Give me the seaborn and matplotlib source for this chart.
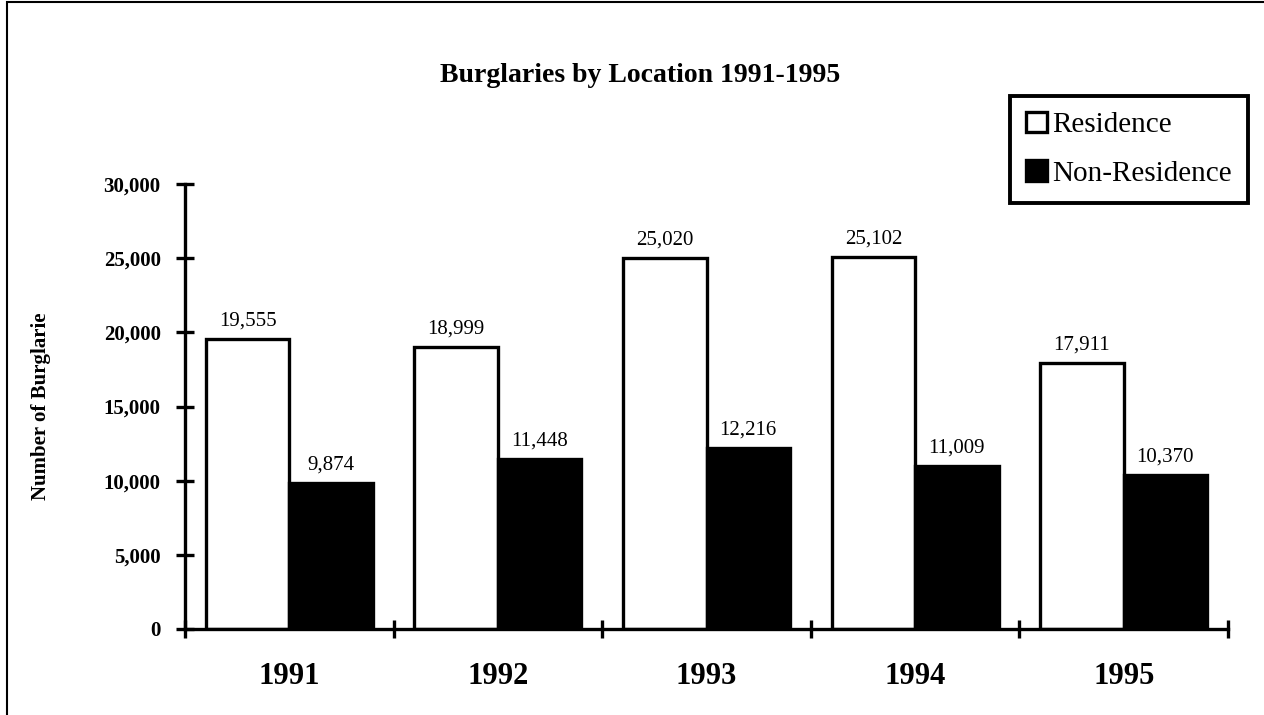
import numpy as np
import pandas as pd
import seaborn as sns
import matplotlib.pyplot as plt
from matplotlib.patches import Rectangle

years = ['1991', '1992', '1993', '1994', '1995']
residence = [19555, 18999, 25020, 25102, 17911]
non_residence = [9874, 11448, 12216, 11009, 10370]
locations = ['Residence', 'Non-Residence']

df = pd.DataFrame({
    'Year': years * 2,
    'Location': ['Residence'] * len(years) + ['Non-Residence'] * len(years),
    'Count': residence + non_residence,
})

sns.set_style('white')
plt.rcParams['font.family'] = ['Liberation Serif', 'DejaVu Serif']
plt.rcParams['text.color'] = 'black'
plt.rcParams['axes.labelcolor'] = 'black'
plt.rcParams['xtick.color'] = 'black'
plt.rcParams['ytick.color'] = 'black'

fig = plt.figure(figsize=(12.64, 7.15), dpi=100)
ax = fig.add_axes([185 / 1264, 1 - 629 / 715, (1228 - 185) / 1264, (629 - 184) / 715])

sns.barplot(data=df, x='Year', y='Count', hue='Location', hue_order=locations,
            palette={'Residence': 'white', 'Non-Residence': 'black'},
            edgecolor='black', linewidth=2.4, width=0.8, ax=ax)

# value labels on top of bars
for cont in ax.containers:
    ax.bar_label(cont, fmt='{:,.0f}', padding=6, fontsize=15, color='black')

ax.set_xlim(-0.5, 4.5)
ax.set_ylim(0, 30000)
ax.set_yticks(np.arange(0, 30001, 5000))
ax.set_yticklabels([f'{v:,}' for v in range(0, 30001, 5000)], fontsize=15, fontweight='bold')
ax.tick_params(axis='y', left=True, direction='inout', length=13, width=2.4, pad=11)

# category labels centred, ticks at the group boundaries
ax.set_xticks(range(len(years)))
ax.set_xticklabels(years, fontsize=22, fontweight='bold')
ax.tick_params(axis='x', which='major', bottom=False, length=0, pad=24)
ax.set_xticks(np.arange(-0.5, len(years), 1), minor=True)
ax.tick_params(axis='x', which='minor', bottom=True, direction='inout', length=13, width=2.4)

ax.set_xlabel('')
ax.set_ylabel('Number of Burglarie', fontsize=15, fontweight='bold')
ax.yaxis.set_label_coords(-0.128, 0.5)

for side in ['top', 'right']:
    ax.spines[side].set_visible(False)
for side in ['left', 'bottom']:
    ax.spines[side].set_linewidth(2.4)
    ax.spines[side].set_color('black')

ax.get_legend().remove()
handles, labels = ax.get_legend_handles_labels()
leg = fig.legend(handles, labels, loc='upper right',
                 bbox_to_anchor=(1248 / 1264, 1 - 96 / 715),
                 fontsize=21, handlelength=0.7, handleheight=0.7,
                 handletextpad=0.2, labelspacing=0.75, borderpad=0.55,
                 borderaxespad=0, fancybox=False, framealpha=1, edgecolor='black')
leg.get_frame().set_linewidth(2.8)

fig.text(640 / 1264, 1 - 75 / 715, 'Burglaries by Location 1991-1995',
         ha='center', va='center', fontsize=20, fontweight='bold')

# outer border of the chart area
fig.patches.append(Rectangle((7 / 1264, -0.05), 1.1, 0.05 + 1 - 2 / 715,
                             transform=fig.transFigure, fill=False,
                             edgecolor='black', linewidth=1.5))

fig.savefig('out.png', dpi=100)
